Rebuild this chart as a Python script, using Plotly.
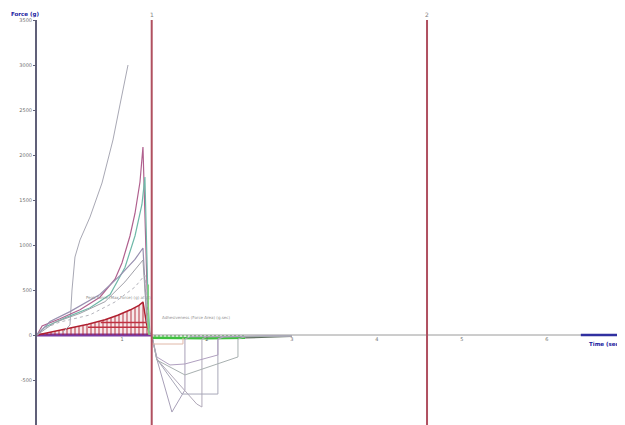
import plotly.graph_objects as go

# ---- data (time in s, force in g) ----
a_t = [0.294, 0.388, 0.412, 0.447, 0.506, 0.624, 0.765, 0.835, 0.894, 0.976, 1.071]
a_f = [22, 111, 500, 867, 1056, 1311, 1689, 1944, 2167, 2556, 3000]

b_t = [0, 0.06, 0.27, 0.506, 0.74, 0.918, 1.0, 1.094, 1.153, 1.212, 1.247, 1.282, 1.306, 1.33]
b_f = [0, 100, 180, 280, 420, 620, 800, 1100, 1350, 1700, 2089, 944, 167, 0]

c_t = [0, 0.094, 0.33, 0.62, 0.86, 1.035, 1.153, 1.235, 1.27, 1.306, 1.33]
c_f = [0, 90, 190, 300, 450, 750, 1100, 1450, 1756, 389, 0]

d_t = [0, 0.153, 0.388, 0.74, 0.976, 1.153, 1.247, 1.294, 1.33]
d_f = [0, 150, 260, 450, 660, 840, 967, 167, 0]

e_t = [0, 0.21, 0.506, 0.8, 1.035, 1.247, 1.294, 1.33]
e_f = [0, 140, 240, 370, 590, 833, 150, 0]

f_t = [0.035, 0.27, 0.62, 0.918, 1.153, 1.27, 1.31, 1.33]
f_f = [56, 144, 222, 367, 533, 667, 120, 0]

red_t = [0, 0.2, 0.4, 0.6, 0.8, 0.95, 1.1, 1.2, 1.247, 1.29, 1.33]
red_f = [0, 40, 80, 120, 170, 220, 280, 330, 367, 120, 0]

green_t = [1.35, 1.6, 2.0, 2.45]
green_f = [-30, -35, -35, -30]
tail_t = [2.45, 2.7, 3.0]
tail_f = [-30, -25, -15]

n1_t = [1.353, 1.41, 1.588, 1.706, 1.741, 1.741, 1.8, 3.0]
n1_f = [-22, -267, -856, -656, -611, -44, -20, -10]
n2_t = [1.36, 1.41, 1.88, 1.941, 1.941, 2.0, 3.0]
n2_f = [-40, -267, -767, -800, -44, -20, -10]
n3_t = [1.36, 1.41, 1.706, 2.129, 2.129, 2.2, 3.0]
n3_f = [-40, -267, -656, -656, -44, -20, -10]
n4_t = [1.36, 1.41, 1.565, 1.741, 2.129, 2.129, 2.2, 3.0]
n4_f = [-40, -244, -333, -322, -222, -44, -20, -10]
n5_t = [1.36, 1.41, 1.741, 2.365, 2.365, 2.45, 3.0]
n5_f = [-40, -278, -444, -244, -44, -20, -10]
n6_t = [1.353, 1.718, 1.718]
n6_f = [-100, -100, -30]

marker_t = [1.35, 4.59]
marker_lbl = ["1", "2"]

x_ticks = [1, 2, 3, 4, 5, 6]
y_ticks = [-1000, -500, 0, 500, 1000, 1500, 2000, 2500, 3000, 3500]

fig = go.Figure()

def line(t, f, color, width=1, dash=None):
    fig.add_trace(go.Scatter(x=t, y=f, mode="lines",
                             line=dict(color=color, width=width, dash=dash),
                             hoverinfo="skip", showlegend=False))

# baseline
line([0, 6.92], [0, 0], "#9a9a9a", 1)
line([0, 1.35], [0, 0], "#7a3aa0", 3)

# red hatched positive area
fig.add_trace(go.Scatter(x=red_t, y=red_f, mode="lines", fill="tozeroy",
                         line=dict(color="#b02030", width=1.5),
                         fillcolor="rgba(255,255,255,0)",
                         fillpattern=dict(shape="|", fgcolor="#b02030", size=4, solidity=0.6),
                         hoverinfo="skip", showlegend=False))
line([0.75, 1.31], [140, 140], "#c03040", 1.5)
line([0.6, 1.31], [85, 85], "#c03040", 1.5)

line(a_t, a_f, "#a8a8b4", 1)
line(b_t, b_f, "#b0608e", 1.2)
line(c_t, c_f, "#6fb8a8", 1.2)
line(d_t, d_f, "#9890b0", 1.2)
line(e_t, e_f, "#a0a0a8", 1)
line(f_t, f_f, "#b4b4bc", 1, "dot")

# green negative area
line([1.31, 1.31, 1.32], [560, 60, 0], "#80d080", 1.5)
fig.add_trace(go.Scatter(x=green_t, y=green_f, mode="lines", fill="tozeroy",
                         line=dict(color="#40c040", width=2.5),
                         fillcolor="rgba(255,255,255,0)",
                         fillpattern=dict(shape="|", fgcolor="#40a040", size=4, solidity=0.5),
                         hoverinfo="skip", showlegend=False))
line(tail_t, tail_f, "#607060", 1.5)

for t, f, c in [(n1_t, n1_f, "#a8a0b8"), (n2_t, n2_f, "#b0a8b8"), (n3_t, n3_f, "#a8a8b8"),
                (n4_t, n4_f, "#b0a0c0"), (n5_t, n5_f, "#a8b0b0"), (n6_t, n6_f, "#e0b8a8")]:
    line(t, f, c, 1)

# blue end segment of the time axis
line([6.4, 6.92], [0, 0], "#3030a0", 2.5)

for t, lbl in zip(marker_t, marker_lbl):
    fig.add_shape(type="line", x0=t, x1=t, y0=0, y1=1, yref="paper",
                  line=dict(color="#b05060", width=2))
    fig.add_annotation(x=t, y=1, yref="paper", yanchor="bottom", text=lbl,
                       showarrow=False, font=dict(size=6, color="#808080"))

fig.add_annotation(x=0.55, y=420, text="Peak Force (Max Force) (g) at (t)", showarrow=False,
                   xanchor="left", font=dict(size=4, color="#909090"))
fig.add_annotation(x=1.45, y=200, text="Adhesiveness (Force Area) (g.sec)", showarrow=False,
                   xanchor="left", font=dict(size=4, color="#909090"))

fig.add_annotation(x=0, y=1, xref="paper", yref="paper", xanchor="left", yanchor="bottom",
                   text="<b>Force (g)</b>", showarrow=False, xshift=-28,
                   font=dict(size=5.5, color="#2020a0"))
fig.add_annotation(x=1, y=0, xref="paper", yref="y", xanchor="right", yanchor="top",
                   text="<b>Time (sec)</b>", showarrow=False, yshift=-4, xshift=-1,
                   font=dict(size=5.5, color="#2020a0"))

# the page body has an 8px margin, so the figure is sized to fill the rest of the window
fig.update_layout(
    width=617, height=417, margin=dict(l=29, r=0, t=12, b=0),
    plot_bgcolor="white", paper_bgcolor="white",
    font=dict(family="DejaVu Sans"),
    xaxis=dict(range=[0, 6.92], tickvals=x_ticks, ticktext=[str(v) for v in x_ticks],
               showgrid=False, zeroline=False, showline=False, ticks="",
               tickfont=dict(size=5, color="#707070"), anchor="free", position=0.2222,
               automargin=False),
    yaxis=dict(range=[-1000, 3500], tickvals=y_ticks, ticktext=[str(v) for v in y_ticks],
               showgrid=False, zeroline=False, showline=True, linecolor="#606078", linewidth=2,
               ticks="outside", ticklen=2, tickcolor="#606078", automargin=False,
               tickfont=dict(size=5, color="#707070")),
)

fig.write_html("out.html")
